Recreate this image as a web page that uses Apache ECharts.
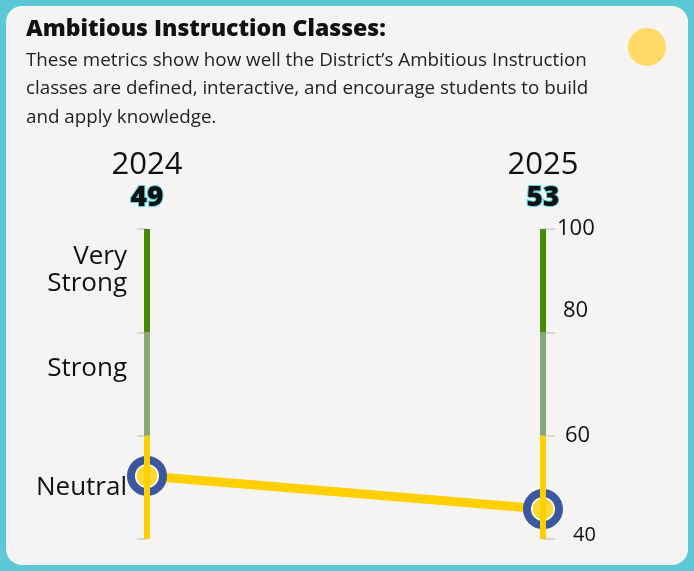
<!DOCTYPE html>
<html>
<head>
<meta charset="utf-8">
<script src="https://cdn.jsdelivr.net/npm/echarts@6/dist/echarts.min.js"></script>
<style>
  html, body { margin: 0; padding: 0; background: #5ac8d5; }
  #card { position: absolute; left: 6px; top: 6px; width: 682px; height: 559px; border-radius: 16px; background: #f5f4f2; }
  #chart { position: absolute; left: 0; top: 0; width: 694px; height: 571px; }
</style>
</head>
<body>
<div id="card"></div>
<div id="chart"></div>
<script>
// categories and values
var years = ['2024', '2025'];
var scoreLabels = [49, 53];
var plotted = [52.2, 45.8];
var bandNames = ['Neutral', 'Strong', 'Very\nStrong'];
var bandEdges = [40, 60, 80, 100];
var bandColors = ['#ffd000', '#86a874', '#468a06'];
var tickValues = [40, 60, 80, 100];

var FONT = 'Open Sans';
var chart = echarts.init(document.getElementById('chart'));

// where the band names sit on the left axis
var nameAnchors = [50, 73, 92];

// vertical band segments drawn at each year through markLine
var bandLines = [];
years.forEach(function (y, i) {
  for (var b = 0; b < bandNames.length; b++) {
    bandLines.push([
      { coord: [i, bandEdges[b]], lineStyle: { color: bandColors[b], width: 6, type: 'solid' } },
      { coord: [i, bandEdges[b + 1]] }
    ]);
  }
});

var option = {
  animation: false,
  textStyle: { fontFamily: FONT },
  title: {
    left: 21,
    top: 13,
    text: 'Ambitious Instruction Classes:',
    textStyle: { fontFamily: FONT, fontSize: 23, fontWeight: 800, color: '#111' },
    subtext: 'These metrics show how well the District\u2019s Ambitious Instruction\nclasses are defined, interactive, and encourage students to build\nand apply knowledge.',
    subtextStyle: { fontFamily: FONT, fontSize: 18.8, lineHeight: 28.5, color: '#222' },
    itemGap: 5
  },
  graphic: [{
    type: 'circle',
    shape: { cx: 647, cy: 47, r: 19 },
    style: { fill: '#ffd966' }
  }],
  grid: { left: 147, right: 151, top: 229, bottom: 32 },
  xAxis: {
    type: 'category',
    data: years,
    boundaryGap: false,
    position: 'top',
    axisLine: { show: false },
    axisTick: { show: false },
    axisLabel: {
      margin: 16,
      formatter: function (v, i) {
        return '{y|' + v + '}\n{v|' + scoreLabels[i] + '}';
      },
      rich: {
        y: { fontFamily: FONT, fontSize: 31, color: '#111', lineHeight: 36 },
        v: { fontFamily: FONT, fontSize: 28, fontWeight: 800, color: '#111',
             textBorderColor: '#5bd3e2', textBorderWidth: 2, lineHeight: 30 }
      }
    }
  },
  yAxis: [
    {
      type: 'value', min: 40, max: 100, interval: 20, position: 'left',
      axisLine: { show: false },
      splitLine: { show: false },
      axisTick: { show: true, length: 10, lineStyle: { color: '#d6d6d6', width: 2 } },
      axisLabel: { show: false }
    },
    {
      type: 'value', min: 40, max: 100, interval: 1, position: 'left',
      axisLine: { show: false },
      splitLine: { show: false },
      axisTick: { show: false },
      axisLabel: {
        margin: 20,
        fontFamily: FONT, fontSize: 26, color: '#111', lineHeight: 27, align: 'right',
        formatter: function (v) {
          var idx = nameAnchors.indexOf(v);
          return idx < 0 ? '' : bandNames[idx];
        }
      }
    },
    {
      type: 'value', min: 40, max: 100, interval: 20, position: 'right',
      axisLine: { show: false },
      splitLine: { show: false },
      axisTick: { show: true, length: 12, lineStyle: { color: '#d6d6d6', width: 2 } },
      axisLabel: {
        margin: 14,
        formatter: function (v) {
          if (v === 80) return '{up|' + v + '}';
          if (v === 60) return '{mid|' + v + '}';
          if (v === 40) return '{low|' + v + '}';
          return '{n|' + v + '}';
        },
        rich: {
          n: { fontFamily: FONT, fontSize: 22, color: '#111' },
          up: { fontFamily: FONT, fontSize: 22, color: '#111', padding: [0, 0, 44, 6] },
          mid: { fontFamily: FONT, fontSize: 22, color: '#111', padding: [0, 0, 0, 8] },
          low: { fontFamily: FONT, fontSize: 20, color: '#111', padding: [0, 0, 8, 16] }
        }
      }
    }
  ],
  series: [
    {
      type: 'line',
      name: 'bands',
      data: [],
      silent: true,
      markLine: { symbol: 'none', silent: true, label: { show: false }, data: bandLines }
    },
    {
      type: 'line',
      name: 'score',
      data: plotted,
      lineStyle: { color: '#ffd000', width: 9 },
      symbol: 'circle',
      symbolSize: 32,
      itemStyle: { color: '#ffffff', borderColor: '#3b579f', borderWidth: 8 },
      z: 3
    },
    {
      type: 'scatter',
      name: 'dots',
      data: plotted,
      symbol: 'circle',
      symbolSize: 21,
      itemStyle: { color: '#ffd000' },
      z: 4
    }
  ]
};
chart.setOption(option);
</script>
</body>
</html>
